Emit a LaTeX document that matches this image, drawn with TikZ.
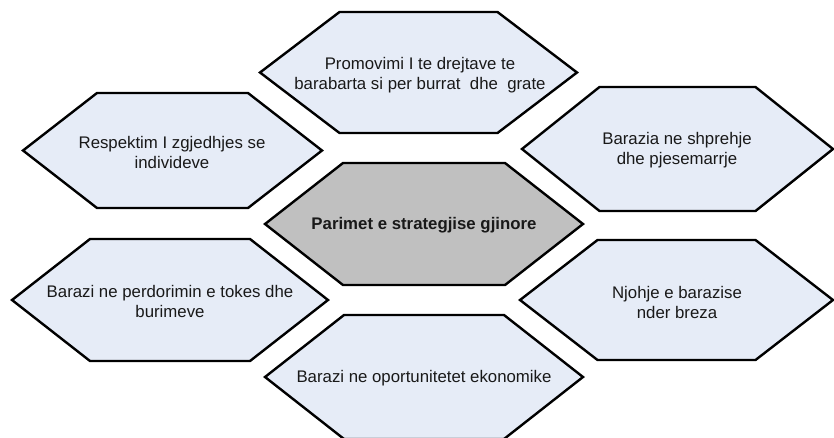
\documentclass[tikz,border=0pt]{standalone}
\usepackage{fontspec}
\setmainfont{Liberation Sans}
\definecolor{hexblue}{RGB}{230,236,247}
\definecolor{hexgray}{RGB}{192,192,192}
\newcommand{\hexshape}[6]{% style, cx, cy, w, d, h
  \draw[#1] ({#2-#4},#3) -- ({#2-#4+#5},{#3-#6}) -- ({#2+#4-#5},{#3-#6}) -- ({#2+#4},#3)
    -- ({#2+#4-#5},{#3+#6}) -- ({#2-#4+#5},{#3+#6}) -- cycle;}
\begin{document}
\begin{tikzpicture}[x=1pt,y=-1pt,
  hexline/.style={draw=black,line width=2.4pt,line join=miter},
  hexlight/.style={hexline,fill=hexblue},
  hexdark/.style={hexline,fill=hexgray},
  hextext/.style={align=center,font=\fontsize{16.8}{20}\selectfont,text=black!90,inner sep=0pt}]
\useasboundingbox (0,0) rectangle (834,437);
\clip (0,0) rectangle (834,437);
\hexshape{hexlight}{418.5}{72.5}{158.5}{79.5}{60.5}
\hexshape{hexlight}{172.5}{150.5}{149.5}{74}{57.5}
\hexshape{hexlight}{677.5}{149}{155.5}{77.5}{62}
\hexshape{hexdark}{424}{224}{159}{78}{61}
\hexshape{hexlight}{170}{300}{158}{78}{61}
\hexshape{hexlight}{676.5}{300}{156.5}{77.5}{60}
\hexshape{hexlight}{424}{377}{159}{79}{62}
\node[hextext] (top) at (420,75) {Promovimi I te drejtave te\\barabarta si per burrat\ \ dhe\ \ grate};
\node[hextext] (lefttop) at (172,152) {Respektim I zgjedhjes se\\individeve};
\node[hextext] (righttop) at (677,150) {Barazia ne shprehje\\dhe pjesemarrje};
\node[hextext,font=\fontsize{16.8}{20}\selectfont\bfseries] (center) at (424,225) {Parimet e strategjise gjinore};
\node[hextext] (leftbottom) at (170,301) {Barazi ne perdorimin e tokes dhe\\burimeve};
\node[hextext] (rightbottom) at (677,302) {Njohje e barazise\\nder breza};
\node[hextext] (bottom) at (424,378) {Barazi ne oportunitetet ekonomike};
\end{tikzpicture}
\end{document}
